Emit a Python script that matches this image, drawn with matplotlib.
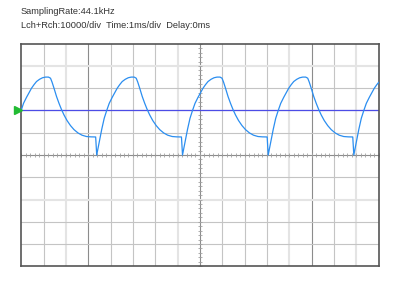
import numpy as np
import matplotlib.pyplot as plt

# ── Data ─────────────────────────────────────────────────────────────────────
# time in ms (1 ms/div), amplitude in counts (10000/div)
trace_t = [
    # partial first cycle (starts at trigger)
    0.000, 0.099, 0.233, 0.345, 0.457, 0.569, 0.681, 0.815, 0.950, 1.084,
    1.218, 1.308, 1.375, 1.465, 1.577, 1.689, 1.801, 1.912, 2.047, 2.204,
    2.360, 2.539, 2.719, 2.920, 3.122, 3.330, 3.377,
    # cycle 2
    3.444, 3.511, 3.601, 3.713, 3.825, 3.937, 4.071, 4.183, 4.295, 4.407,
    4.519, 4.653, 4.788, 4.922, 5.056, 5.146, 5.213, 5.303, 5.415, 5.527,
    5.639, 5.750, 5.885, 6.042, 6.198, 6.377, 6.557, 6.758, 6.960, 7.172, 7.219,
    # cycle 3
    7.286, 7.353, 7.443, 7.555, 7.667, 7.779, 7.913, 8.025, 8.137, 8.249,
    8.361, 8.495, 8.630, 8.764, 8.898, 8.988, 9.055, 9.145, 9.257, 9.369,
    9.481, 9.592, 9.727, 9.884, 10.040, 10.219, 10.399, 10.600, 10.802, 11.010, 11.057,
    # cycle 4
    11.124, 11.191, 11.281, 11.393, 11.505, 11.617, 11.751, 11.863, 11.975, 12.087,
    12.199, 12.333, 12.468, 12.602, 12.736, 12.826, 12.893, 12.983, 13.095, 13.207,
    13.319, 13.430, 13.565, 13.722, 13.878, 14.057, 14.237, 14.438, 14.640, 14.843, 14.890,
    # partial last cycle
    14.957, 15.024, 15.114, 15.226, 15.338, 15.450, 15.584, 15.696, 15.808, 15.920,
    16.000,
]
trace_v = [
    20200, 23200, 25900, 28000, 30000, 31600, 33000, 34000, 34700, 35000,
    35000, 34500, 32800, 30000, 26300, 23200, 20400, 18000, 15500, 13200,
    11400, 9900, 8900, 8300, 8150, 8100, 0,
    3500, 7000, 11500, 16500, 20000, 23200, 25900, 28000, 30000, 31600,
    33000, 34000, 34700, 35000, 35000, 34500, 32800, 30000, 26300, 23200,
    20400, 18000, 15500, 13200, 11400, 9900, 8900, 8300, 8150, 8100, 0,
    3500, 7000, 11500, 16500, 20000, 23200, 25900, 28000, 30000, 31600,
    33000, 34000, 34700, 35000, 35000, 34500, 32800, 30000, 26300, 23200,
    20400, 18000, 15500, 13200, 11400, 9900, 8900, 8300, 8150, 8100, 0,
    3500, 7000, 11500, 16500, 20000, 23200, 25900, 28000, 30000, 31600,
    33000, 34000, 34700, 35000, 35000, 34500, 32800, 30000, 26300, 23200,
    20400, 18000, 15500, 13200, 11400, 9900, 8900, 8300, 8150, 8100, 0,
    3500, 7000, 11500, 16500, 20000, 23200, 25900, 28000, 30000, 31600,
    32600,
]
trigger_level = 20000

header_line1 = "SamplingRate:44.1kHz"
header_line2 = "Lch+Rch:10000/div  Time:1ms/div  Delay:0ms"

# ── Style ────────────────────────────────────────────────────────────────────
GRID = "#c4c4c4"
GRID_LIGHT = "#e4e4e4"
GRID_DARK = "#8c8c8c"
BORDER = "#555555"
TRACE = "#2b8ef0"
TRIG = "#4c4ce6"

plt.rcParams["font.family"] = ["Liberation Sans", "DejaVu Sans"]

fig = plt.figure(figsize=(4.0, 2.89), dpi=100, facecolor="white")
ax = fig.add_axes([21.3 / 400, 22.7 / 289, 357.3 / 400, 222.6 / 289])
ax.set_xlim(0, 16)
ax.set_ylim(-50000, 50000)

# graticule
light_x = [2, 7, 12, 15]
dark_x = [3, 8, 13]
for x in range(1, 16):
    if x in dark_x:
        ax.axvline(x, color=GRID_DARK, lw=0.8, zorder=1)
    elif x in light_x:
        ax.axvline(x, color=GRID_LIGHT, lw=1.5, zorder=1)
    else:
        ax.axvline(x, color=GRID, lw=0.8, zorder=1)

light_y = [40000, -20000]
for y in range(-40000, 50000, 10000):
    if y == 0:
        ax.axhline(y, color=GRID_DARK, lw=0.8, zorder=1)
    elif y in light_y:
        ax.axhline(y, color=GRID_LIGHT, lw=1.5, zorder=1)
    else:
        ax.axhline(y, color=GRID, lw=0.8, zorder=1)

# small ticks along the centre lines
sub_t = np.arange(0, 16.01, 0.2)
ax.plot(sub_t, np.zeros_like(sub_t), ls="none", marker="|", ms=3,
        mew=0.6, color="#a0a0a0", zorder=1)
sub_v = np.arange(-50000, 50001, 2000)
ax.plot(np.full_like(sub_v, 8.0, dtype=float), sub_v, ls="none", marker="_",
        ms=3, mew=0.6, color="#a0a0a0", zorder=1)

# trigger level + marker
ax.axhline(trigger_level, color=TRIG, lw=0.9, zorder=2)
ax.plot([-0.17], [trigger_level], marker=">", ms=5.5, color="#22bb33",
        clip_on=False, zorder=5)

# waveform
ax.plot(trace_t, trace_v, color=TRACE, lw=0.9, zorder=3)

ax.set_xticks([])
ax.set_yticks([])
for s in ax.spines.values():
    s.set_color(BORDER)
    s.set_linewidth(1.2)

fig.text(21 / 400, 1 - 12 / 289, header_line1, fontsize=6.7, color="#333333",
         va="center", ha="left")
fig.text(21 / 400, 1 - 26 / 289, header_line2, fontsize=6.7, color="#333333",
         va="center", ha="left")

fig.savefig("out.png", dpi=100, facecolor="white")
